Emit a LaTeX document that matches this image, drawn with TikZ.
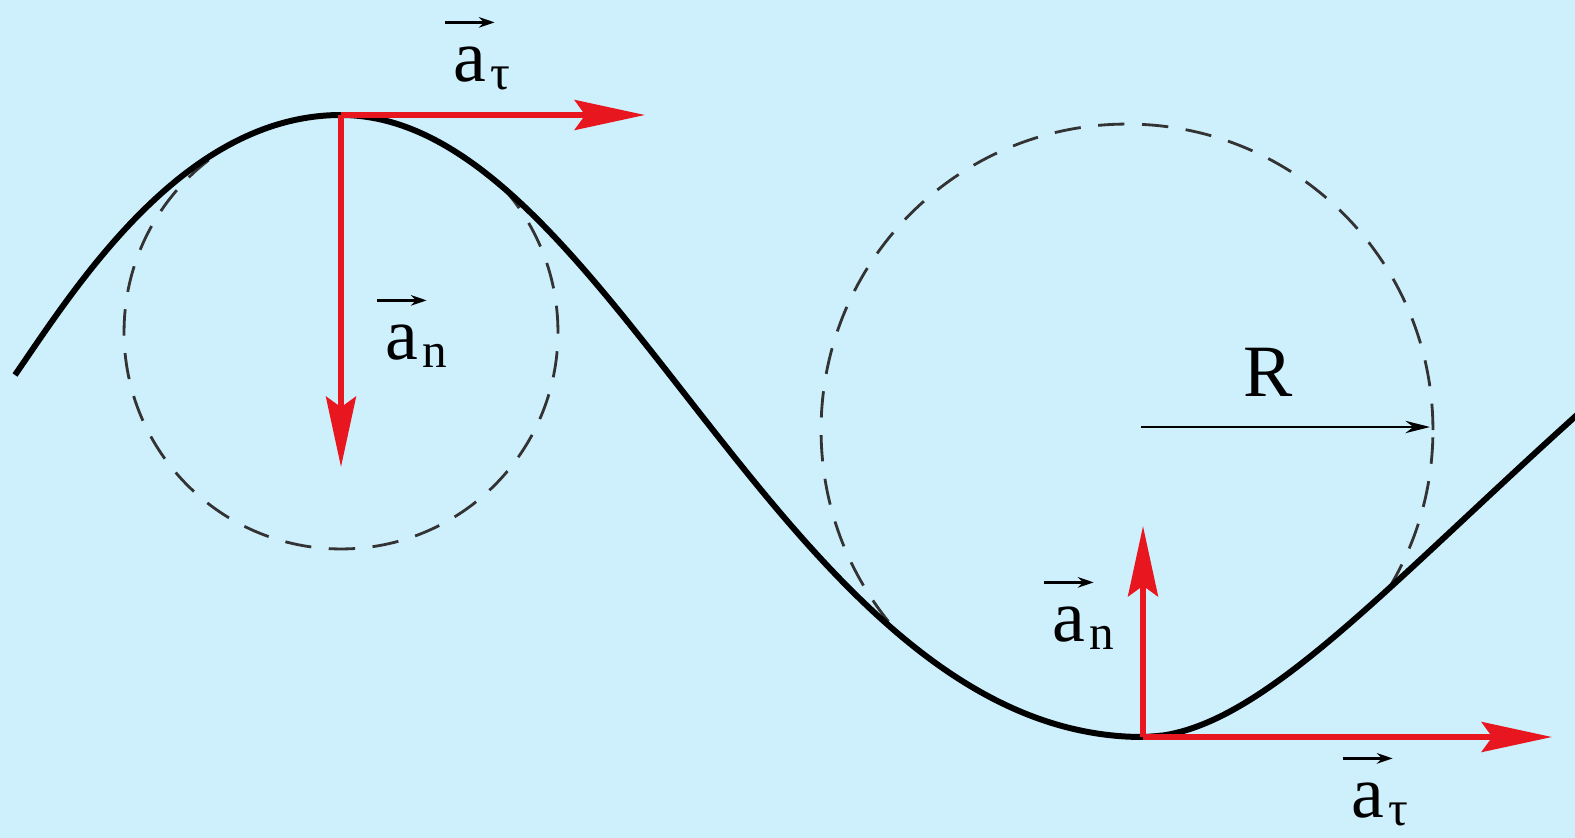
\documentclass[tikz,border=0pt]{standalone}
\usepackage{fontspec}
\setmainfont{Liberation Serif}
\usetikzlibrary{arrows.meta}
\definecolor{bgblue}{RGB}{206,239,252}
\definecolor{vred}{RGB}{232,22,30}
\begin{document}
\begin{tikzpicture}[x=0.02cm,y=-0.02cm,
  curve/.style={line width=3.4pt,black},
  dcircle/.style={line width=1.6pt,black!80,dash pattern=on 15pt off 10pt},
  redvec/.style={line width=3.4pt,vred,-{Stealth[length=40pt,width=17pt,inset=6pt]}},
  radvec/.style={line width=1.5pt,black,-{Stealth[length=14pt,width=7pt]}},
  lbl/.style={font=\fontsize{42}{42}\selectfont,inner sep=0pt},
  sublbl/.style={font=\fontsize{28}{28}\selectfont,inner sep=0pt,anchor=base west},
  overarr/.style={line width=1.5pt,black,-{Stealth[length=9pt,width=6pt]}}]
\fill[bgblue] (0,0) rectangle (1575,838);
\useasboundingbox (0,0) rectangle (1575,838);
% key points
\coordinate (peak) at (341,115);
\coordinate (trough) at (1143,737);
\coordinate (start) at (15,375);
\coordinate (finish) at (1578,414);
\coordinate (c1) at (341,332);
\coordinate (c2) at (1127,430);
\coordinate (t1) at (645,115);
\coordinate (n1) at (341,467);
\coordinate (n2) at (1143,526);
\coordinate (t2) at (1552,737);
\coordinate (r0) at (1141,427);
\coordinate (r1) at (1430,427);
% dashed circles, kept on the concave side of the curve
\begin{scope}
  \clip (start) .. controls (75,288) and (183,115) .. (peak)
    .. controls (611,115) and (787,737) .. (trough) -- (1143,838) -- (0,838) -- (0,375) -- cycle;
  \draw[dcircle] (c1) circle[radius=4.34cm];
\end{scope}
\begin{scope}
  \clip (peak) .. controls (611,115) and (787,737) .. (trough)
    .. controls (1253,737) and (1378,594) .. (finish) -- (1578,0) -- (341,0) -- cycle;
  \draw[dcircle] (c2) circle[radius=6.12cm];
\end{scope}
% curve
\draw[curve] (start) .. controls (75,288) and (183,115) .. (peak)
  .. controls (611,115) and (787,737) .. (trough)
  .. controls (1253,737) and (1378,594) .. (finish);
% radius
\draw[radvec] (r0) -- (r1);
% vectors
\draw[redvec] (peak) -- (t1);
\draw[redvec] (peak) -- (n1);
\draw[redvec] (trough) -- (n2);
\draw[redvec] (trough) -- (t2);
% labels
\node[lbl] (lt1) at (470,65) {a};
\node[sublbl] (lt1s) at ([xshift=2pt,yshift=-4.5pt]lt1.base east) {τ};
\draw[overarr] ([xshift=-4.5pt,yshift=14pt]lt1.north west) -- ([xshift=4.5pt,yshift=14pt]lt1.north east);
\node[lbl] (ln1) at (402,343) {a};
\node[sublbl] (ln1s) at ([xshift=2pt,yshift=-4.5pt]ln1.base east) {n};
\draw[overarr] ([xshift=-4.5pt,yshift=14pt]ln1.north west) -- ([xshift=4.5pt,yshift=14pt]ln1.north east);
\node[lbl] (lR) at (1268,372) {R};
\node[lbl] (ln2) at (1069,625) {a};
\node[sublbl] (ln2s) at ([xshift=2pt,yshift=-4.5pt]ln2.base east) {n};
\draw[overarr] ([xshift=-4.5pt,yshift=14pt]ln2.north west) -- ([xshift=4.5pt,yshift=14pt]ln2.north east);
\node[lbl] (lt2) at (1368,801) {a};
\node[sublbl] (lt2s) at ([xshift=2pt,yshift=-4.5pt]lt2.base east) {τ};
\draw[overarr] ([xshift=-4.5pt,yshift=14pt]lt2.north west) -- ([xshift=4.5pt,yshift=14pt]lt2.north east);
\end{tikzpicture}
\end{document}
